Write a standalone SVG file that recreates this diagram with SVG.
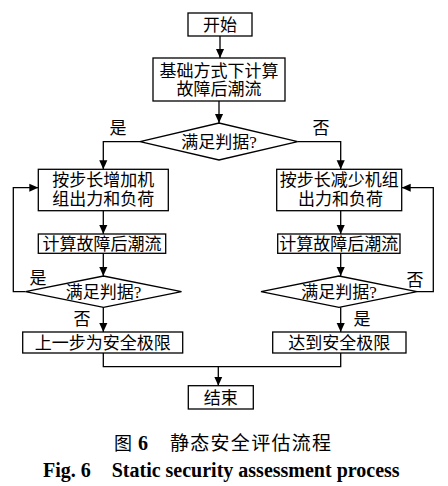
<svg xmlns="http://www.w3.org/2000/svg" width="448" height="486" viewBox="0 0 448 486">
<style>
.box{fill:#fff;stroke:#000;stroke-width:1.3}
.t{font-family:"Liberation Serif","Noto Sans CJK SC",serif;font-size:17px;fill:#000;text-anchor:middle}
.c{fill:none;stroke:#000;stroke-width:1.3}
.cap{font-family:"Liberation Serif","Noto Sans CJK SC",serif;font-weight:bold;fill:#000}
.capn{font-family:"Liberation Serif","Noto Sans CJK SC",serif;font-weight:normal;fill:#000}
</style>
<defs>
<marker id="ah" viewBox="0 0 10 10" refX="10" refY="5" markerWidth="9" markerHeight="9" markerUnits="userSpaceOnUse" orient="auto">
<path d="M0,0.5 L10,5 L0,9.5 Z" fill="#000"/>
</marker>
</defs>
<rect width="448" height="486" fill="#fff"/>
<g id="connectors">
<path class="c" d="M220,36 V58" marker-end="url(#ah)"/>
<path class="c" d="M219,101 V123" marker-end="url(#ah)"/>
<path class="c" d="M140,141.7 H103.3 V169.3" marker-end="url(#ah)"/>
<path class="c" d="M297.7,141.7 H340.7 V169.3" marker-end="url(#ah)"/>
<path class="c" d="M103.3,210.7 V234" marker-end="url(#ah)"/>
<path class="c" d="M340.7,210.7 V234" marker-end="url(#ah)"/>
<path class="c" d="M103.3,253.3 V276" marker-end="url(#ah)"/>
<path class="c" d="M340.7,253.3 V276" marker-end="url(#ah)"/>
<path class="c" d="M25.5,291.7 H13.3 V187.7 H38.3" marker-end="url(#ah)"/>
<path class="c" d="M417,291.7 H433.3 V187.7 H401.7" marker-end="url(#ah)"/>
<path class="c" d="M103.3,307.3 V332" marker-end="url(#ah)"/>
<path class="c" d="M340.7,307.3 V332" marker-end="url(#ah)"/>
<path class="c" d="M103.3,353 V366.7 H340.7 V353"/>
<path class="c" d="M218.3,366.7 V385.7" marker-end="url(#ah)"/>
<text class="t" x="118" y="134">是</text>
<text class="t" x="321" y="134">否</text>
<text class="t" x="38" y="284">是</text>
<text class="t" x="415" y="285.5">否</text>
<text class="t" x="82" y="324.8">否</text>
<text class="t" x="362" y="324.8">是</text>
</g>
<g id="start">
<rect class="box" x="188" y="13" width="64" height="23"/>
<text class="t" x="220" y="30.5">开始</text>
</g>
<g id="base">
<rect class="box" x="153" y="58" width="132" height="43"/>
<text class="t" x="219" y="76.5">基础方式下计算</text>
<text class="t" x="219" y="95">故障后潮流</text>
</g>
<g id="check1">
<polygon class="box" points="140,141.7 219,123 297.7,141.7 219,160"/>
<text class="t" x="219" y="148">满足判据?</text>
</g>
<g id="increase">
<rect class="box" x="38.3" y="169.3" width="130" height="41.4"/>
<text class="t" x="103.3" y="186.3">按步长增加机</text>
<text class="t" x="103.3" y="204.8">组出力和负荷</text>
</g>
<g id="decrease">
<rect class="box" x="276.7" y="169.3" width="125" height="41.4"/>
<text class="t" x="339.2" y="186.3">按步长减少机组</text>
<text class="t" x="340.5" y="204.8">出力和负荷</text>
</g>
<g id="calcL">
<rect class="box" x="38.3" y="234" width="127.4" height="19.3"/>
<text class="t" x="102" y="249.8">计算故障后潮流</text>
</g>
<g id="calcR">
<rect class="box" x="277.7" y="234" width="122.3" height="19.3"/>
<text class="t" x="338.8" y="249.8">计算故障后潮流</text>
</g>
<g id="checkL">
<polygon class="box" points="25.5,291.7 103.5,276 181.5,291.7 103.5,307.3"/>
<text class="t" x="103.5" y="298">满足判据?</text>
</g>
<g id="checkR">
<polygon class="box" points="261,291.7 339,276 417,291.7 339,307.3"/>
<text class="t" x="339" y="298">满足判据?</text>
</g>
<g id="limitL">
<rect class="box" x="22.7" y="332" width="160" height="21"/>
<text class="t" x="102.7" y="349">上一步为安全极限</text>
</g>
<g id="limitR">
<rect class="box" x="272.7" y="332" width="133.3" height="21"/>
<text class="t" x="339.3" y="349">达到安全极限</text>
</g>
<g id="end">
<rect class="box" x="188.3" y="385.7" width="65" height="23.3"/>
<text class="t" x="220.8" y="404">结束</text>
</g>
<g id="caption">
<text class="capn" font-size="18" x="114" y="450">图</text>
<text class="cap" font-size="20" x="138" y="450">6</text>
<text class="capn" font-size="19" x="170" y="450" textLength="161" lengthAdjust="spacing">静态安全评估流程</text>
<text class="cap" font-size="20" x="43" y="476.7">Fig. 6</text>
<text class="cap" font-size="20" x="111.7" y="476.7">Static security assessment process</text>
</g>
</svg>
